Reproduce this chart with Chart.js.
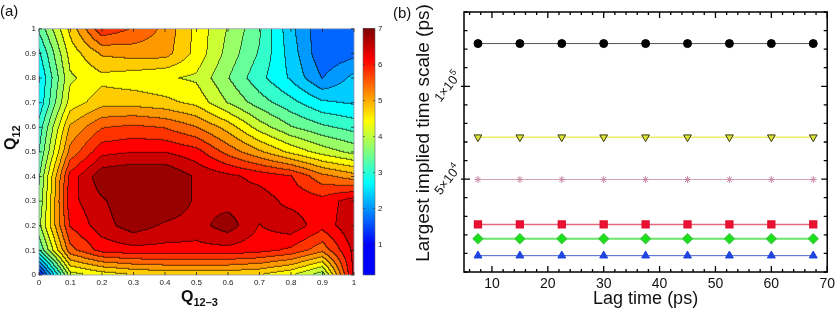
<!DOCTYPE html>
<html>
<head>
<meta charset="utf-8">
<script src="https://cdn.jsdelivr.net/npm/chart.js@4.4.1/dist/chart.umd.min.js"></script>
<style>
  html, body { margin: 0; padding: 0; background: #fff; }
  #wrap { position: relative; width: 839px; height: 310px; overflow: hidden; }
  #contour-chart { position: absolute; left: 0; top: 0; }
  #lag-chart { position: absolute; left: 380px; top: 0; }
</style>
</head>
<body>
<div id="wrap">
  <canvas id="contour-chart" width="400" height="310"></canvas>
  <canvas id="lag-chart" width="459" height="310"></canvas>
</div>
<script>
const FONT = "'Liberation Sans', Arial, Helvetica, sans-serif";

// ---- (a) free energy surface, columns: Q12-3 = 0..1, rows: Q12 = 0..1
const q123 = [0, 0.1, 0.2, 0.3, 0.4, 0.5, 0.6, 0.7, 0.8, 0.9, 1];
const q12 = [0, 0.1, 0.2, 0.3, 0.4, 0.5, 0.6, 0.7, 0.8, 0.9, 1];
const qTickLabels = ["0", "0.1", "0.2", "0.3", "0.4", "0.5", "0.6", "0.7", "0.8", "0.9", "1"];
const freeEnergy = [
  [1.0, 4.1, 4.4, 4.6, 4.7, 4.7, 4.7, 4.6, 4.3, 3.7, 6.4],
  [3.2, 5.5, 6.1, 6.2, 6.2, 6.2, 6.2, 6.1, 5.9, 5.4, 6.4],
  [3.8, 6.0, 6.5, 6.85, 6.6, 6.5, 6.85, 6.3, 6.55, 6.1, 6.6],
  [3.6, 6.2, 6.6, 6.95, 7.0, 6.6, 6.5, 6.5, 6.2, 6.1, 6.5],
  [3.5, 6.1, 6.9, 7.0, 7.0, 6.6, 6.4, 6.2, 6.0, 5.4, 5.1],
  [3.2, 5.4, 6.2, 6.3, 6.3, 6.1, 5.5, 5.0, 4.5, 4.1, 3.8],
  [3.0, 5.0, 5.6, 5.7, 5.6, 5.3, 4.8, 4.1, 3.6, 3.3, 3.1],
  [2.6, 4.4, 4.8, 4.8, 4.7, 4.5, 3.9, 3.4, 3.0, 2.6, 2.5],
  [2.5, 4.2, 4.5, 4.4, 4.3, 4.2, 3.6, 3.0, 2.5, 1.85, 2.3],
  [2.8, 4.4, 5.0, 5.1, 5.1, 4.5, 3.8, 3.2, 2.4, 1.6, 1.75],
  [3.3, 4.7, 5.9, 5.6, 5.2, 4.5, 3.9, 3.3, 2.3, 1.6, 1.65]
];
const colorbarTicks = [1, 2, 3, 4, 5, 6, 7];
const zMin = 0.15;
const zMax = 7;
const nLevels = 20;

// ---- (b) largest implied time scale vs lag time
const lagTimes = [7.5, 15, 22.5, 30, 37.5, 45, 52.5, 60, 67.5];
const tauCircle = [123000, 123000, 123000, 123000, 123000, 123000, 123000, 123000, 123000];
const tauTriDown = [72600, 72600, 72600, 72600, 72600, 72600, 72600, 72600, 72600];
const tauStar = [49800, 49800, 49800, 49800, 49800, 49800, 49800, 49800, 49800];
const tauSquare = [25600, 25600, 25600, 25600, 25600, 25600, 25600, 25600, 25600];
const tauDiamond = [17900, 17900, 17900, 17900, 17900, 17900, 17900, 17900, 17900];
const tauTriUp = [8800, 8800, 8800, 8800, 8800, 8800, 8800, 8800, 8800];
const xTickValues = [6, 8, 10, 12, 14, 16, 18, 20, 22, 24, 26, 28, 30, 32, 34, 36, 38, 40,
  42, 44, 46, 48, 50, 52, 54, 56, 58, 60, 62, 64, 66, 68, 70];
const xMajorTicks = [10, 20, 30, 40, 50, 60, 70];
const yTickValues = [0, 10000, 20000, 30000, 40000, 50000, 60000, 70000, 80000, 90000,
  100000, 110000, 120000, 130000, 140000];
const yLabelValues = [50000, 100000];
const yLabelBase = ["5\u00d710", "1\u00d710"];
const yLabelExp = ["4", "5"];

function clamp(v, a, b) { return Math.min(Math.max(v, a), b); }

function jet(t) {
  t = clamp(t, 0.125, 1);
  return [
    Math.round(255 * clamp(1.5 - Math.abs(4 * t - 3), 0, 1)),
    Math.round(255 * clamp(1.5 - Math.abs(4 * t - 2), 0, 1)),
    Math.round(255 * clamp(1.5 - Math.abs(4 * t - 1), 0, 1))
  ];
}

function sampleGrid(x, y) {
  const nx = q123.length - 1, ny = q12.length - 1;
  let fx = (x - q123[0]) / (q123[nx] - q123[0]) * nx;
  let fy = (y - q12[0]) / (q12[ny] - q12[0]) * ny;
  fx = clamp(fx, 0, nx - 1e-6);
  fy = clamp(fy, 0, ny - 1e-6);
  const i = Math.floor(fx), j = Math.floor(fy);
  const tx = fx - i, ty = fy - j;
  const a = freeEnergy[j][i] * (1 - tx) + freeEnergy[j][i + 1] * tx;
  const b = freeEnergy[j + 1][i] * (1 - tx) + freeEnergy[j + 1][i + 1] * tx;
  return a * (1 - ty) + b * ty;
}

const contourPlugin = {
  id: "contour",
  beforeDatasetsDraw(chart) {
    const { ctx, chartArea: a } = chart;
    const { x, y, cb } = chart.scales;
    const w = Math.round(a.right - a.left), h = Math.round(a.bottom - a.top);
    const step = (zMax - zMin) / nLevels;
    const lev = new Int16Array(w * h);
    for (let j = 0; j < h; j++) {
      const vy = y.getValueForPixel(a.top + j + 0.5);
      for (let i = 0; i < w; i++) {
        const vx = x.getValueForPixel(a.left + i + 0.5);
        const z = sampleGrid(vx, vy);
        lev[j * w + i] = clamp(Math.floor((z - zMin) / step), 0, nLevels - 1);
      }
    }
    const bandColors = [];
    for (let k = 0; k < nLevels; k++) bandColors.push(jet((k + 0.5) / nLevels));
    const off = document.createElement("canvas");
    off.width = w; off.height = h;
    const octx = off.getContext("2d");
    const img = octx.createImageData(w, h);
    for (let j = 0; j < h; j++) {
      for (let i = 0; i < w; i++) {
        const p = j * w + i;
        const k = lev[p];
        let [r, g, b] = bandColors[k];
        const edge = (i < w - 1 && lev[p + 1] !== k) || (j < h - 1 && lev[p + w] !== k);
        if (edge) { r *= 0.38; g *= 0.38; b *= 0.38; }
        img.data[p * 4] = r;
        img.data[p * 4 + 1] = g;
        img.data[p * 4 + 2] = b;
        img.data[p * 4 + 3] = 255;
      }
    }
    octx.putImageData(img, 0, 0);
    ctx.drawImage(off, a.left, a.top);

    // colorbar, continuous colormap along the cb scale
    const bx = cb.left + 9, bw = 12;
    for (let py = Math.floor(cb.top); py < cb.bottom; py++) {
      const v = cb.getValueForPixel(py + 0.5);
      const [r, g, b] = jet((v - zMin) / (zMax - zMin));
      ctx.fillStyle = `rgb(${r},${g},${b})`;
      ctx.fillRect(bx, py, bw, 1);
    }
    ctx.strokeStyle = "#666";
    ctx.lineWidth = 0.6;
    ctx.strokeRect(bx, cb.top, bw, cb.bottom - cb.top);
    ctx.strokeStyle = "#333";
    colorbarTicks.forEach(v => {
      const py = cb.getPixelForValue(v);
      ctx.beginPath();
      ctx.moveTo(bx, py); ctx.lineTo(bx + 2, py);
      ctx.moveTo(bx + bw, py); ctx.lineTo(bx + bw - 2, py);
      ctx.stroke();
    });
  },
  afterDraw(chart) {
    const { ctx, chartArea: a } = chart;
    const { x, y } = chart.scales;
    ctx.save();
    ctx.strokeStyle = "#8a94a8";
    ctx.lineWidth = 0.8;
    ctx.strokeRect(a.left, a.top, a.right - a.left, a.bottom - a.top);
    ctx.strokeStyle = "#222";
    ctx.lineWidth = 0.8;
    q123.forEach(v => {
      const px = x.getPixelForValue(v);
      ctx.beginPath();
      ctx.moveTo(px, a.bottom); ctx.lineTo(px, a.bottom - 3);
      ctx.moveTo(px, a.top); ctx.lineTo(px, a.top + 3);
      ctx.stroke();
    });
    q12.forEach(v => {
      const py = y.getPixelForValue(v);
      ctx.beginPath();
      ctx.moveTo(a.left, py); ctx.lineTo(a.left + 3, py);
      ctx.moveTo(a.right, py); ctx.lineTo(a.right - 3, py);
      ctx.stroke();
    });

    ctx.fillStyle = "#111";
    // x title: Q12-3
    ctx.textBaseline = "alphabetic";
    ctx.textAlign = "left";
    ctx.font = `bold 16px ${FONT}`;
    const qx = 181;
    ctx.fillText("Q", qx, 302);
    const qw = ctx.measureText("Q").width;
    ctx.font = `bold 11px ${FONT}`;
    ctx.fillText("12\u20133", qx + qw, 306);
    // y title: Q12
    ctx.save();
    ctx.translate(16, 150);
    ctx.rotate(-Math.PI / 2);
    ctx.font = `bold 16px ${FONT}`;
    ctx.fillText("Q", 0, 0);
    ctx.font = `bold 11px ${FONT}`;
    ctx.fillText("12", qw, 4);
    ctx.restore();
    // panel label
    ctx.font = `15px ${FONT}`;
    ctx.fillText("(a)", 0, 16);
    ctx.restore();
  }
};

new Chart(document.getElementById("contour-chart").getContext("2d"), {
  type: "scatter",
  data: {
    datasets: [{
      data: q12.flatMap(qy => q123.map(qx => ({ x: qx, y: qy }))),
      pointRadius: 0
    }]
  },
  options: {
    responsive: false,
    animation: false,
    events: [],
    layout: { padding: { top: 8, left: 0, right: 0, bottom: 0 } },
    plugins: { legend: { display: false }, tooltip: { enabled: false } },
    scales: {
      x: {
        type: "linear", min: 0, max: 1,
        afterBuildTicks: s => { s.ticks = q123.map(v => ({ value: v })); },
        afterFit: s => { s.height = 35; },
        ticks: { autoSkip: false, maxRotation: 0, padding: 3, color: "#222",
          font: { family: FONT, size: 8 }, callback: (v, i) => qTickLabels[i] },
        grid: { display: false, drawTicks: false },
        border: { display: false }
      },
      y: {
        type: "linear", min: 0, max: 1,
        afterBuildTicks: s => { s.ticks = q12.map(v => ({ value: v })); },
        afterFit: s => { s.width = 39; },
        ticks: { autoSkip: false, padding: 3, color: "#222",
          font: { family: FONT, size: 8 }, callback: (v, i) => qTickLabels[i] },
        grid: { display: false, drawTicks: false },
        border: { display: false }
      },
      cb: {
        type: "linear", position: "right", min: zMin, max: zMax,
        afterBuildTicks: s => { s.ticks = colorbarTicks.map(v => ({ value: v })); },
        afterFit: s => { s.width = 46; },
        ticks: { autoSkip: false, padding: 24, color: "#222",
          font: { family: FONT, size: 8 }, callback: v => String(v) },
        grid: { display: false, drawTicks: false },
        border: { display: false }
      }
    }
  },
  plugins: [contourPlugin]
});

// ---- (b)
const framePlugin = {
  id: "frame",
  afterDraw(chart) {
    const { ctx, chartArea: a } = chart;
    const { x, y } = chart.scales;
    ctx.save();
    ctx.strokeStyle = "#000";
    ctx.lineWidth = 1.5;
    ctx.strokeRect(a.left, a.top, a.right - a.left, a.bottom - a.top);
    ctx.lineWidth = 1.3;
    xTickValues.forEach(v => {
      const px = x.getPixelForValue(v);
      const len = xMajorTicks.includes(v) ? 6 : 3;
      ctx.beginPath();
      ctx.moveTo(px, a.bottom); ctx.lineTo(px, a.bottom - len);
      ctx.moveTo(px, a.top); ctx.lineTo(px, a.top + len);
      ctx.stroke();
    });
    yTickValues.forEach(v => {
      const py = y.getPixelForValue(v);
      const len = yLabelValues.includes(v) ? 6 : 3.5;
      ctx.beginPath();
      ctx.moveTo(a.left - (yLabelValues.includes(v) ? 3 : 0), py); ctx.lineTo(a.left + len, py);
      ctx.moveTo(a.right, py); ctx.lineTo(a.right - len, py);
      ctx.stroke();
    });

    // rotated y tick labels with exponents
    ctx.fillStyle = "#111";
    yLabelValues.forEach((v, i) => {
      const py = y.getPixelForValue(v);
      ctx.save();
      ctx.translate(a.left - 17, py);
      ctx.rotate(-52 * Math.PI / 180);
      ctx.font = `13px ${FONT}`;
      const bw = ctx.measureText(yLabelBase[i]).width;
      ctx.font = `9px ${FONT}`;
      const ew = ctx.measureText(yLabelExp[i]).width;
      const x0 = -(bw + ew) / 2;
      ctx.textBaseline = "alphabetic";
      ctx.textAlign = "left";
      ctx.font = `13px ${FONT}`;
      ctx.fillText(yLabelBase[i], x0, 5);
      ctx.font = `9px ${FONT}`;
      ctx.fillText(yLabelExp[i], x0 + bw, -1);
      ctx.restore();
    });

    // y title
    ctx.save();
    ctx.translate(44, 133);
    ctx.rotate(-Math.PI / 2);
    ctx.textAlign = "center";
    ctx.textBaseline = "middle";
    ctx.font = `19px ${FONT}`;
    ctx.fillText("Largest implied time scale (ps)", 0, 0);
    ctx.restore();

    ctx.textAlign = "left";
    ctx.textBaseline = "alphabetic";
    ctx.font = `15px ${FONT}`;
    ctx.fillText("(b)", 13, 18);
    ctx.restore();
  }
};

function pts(values) {
  return lagTimes.map((t, i) => ({ x: t, y: values[i] }));
}

new Chart(document.getElementById("lag-chart").getContext("2d"), {
  type: "scatter",
  data: {
    datasets: [
      { data: pts(tauCircle), showLine: true, borderColor: "#555", borderWidth: 1,
        pointStyle: "circle", pointRadius: 4, pointBackgroundColor: "#000", pointBorderColor: "#000" },
      { data: pts(tauTriDown), showLine: true, borderColor: "#eded6a", borderWidth: 1.5,
        pointStyle: "triangle", rotation: 180, pointRadius: 4.5, pointBackgroundColor: "#dce43a",
        pointBorderColor: "#3a3a10", pointBorderWidth: 1 },
      { data: pts(tauStar), showLine: true, borderColor: "#d4a2b8", borderWidth: 1,
        pointStyle: "star", pointRadius: 3.5, pointBorderColor: "#c98aa6", pointBorderWidth: 1 },
      { data: pts(tauSquare), showLine: true, borderColor: "#e46a7c", borderWidth: 1.5,
        pointStyle: "rect", pointRadius: 4.8, pointBackgroundColor: "#ee1030", pointBorderColor: "#e01030" },
      { data: pts(tauDiamond), showLine: true, borderColor: "#6be46b", borderWidth: 2,
        pointStyle: "rectRot", pointRadius: 4.3, pointBackgroundColor: "#10ea10", pointBorderColor: "#30d030" },
      { data: pts(tauTriUp), showLine: true, borderColor: "#4a64c8", borderWidth: 1,
        pointStyle: "triangle", pointRadius: 4.6, pointBackgroundColor: "#1f44e0", pointBorderColor: "#1f44e0" }
    ]
  },
  options: {
    responsive: false,
    animation: false,
    events: [],
    layout: { padding: { top: 12, right: 10, left: 0, bottom: 0 } },
    plugins: { legend: { display: false }, tooltip: { enabled: false } },
    scales: {
      x: {
        type: "linear", min: 5, max: 70,
        afterBuildTicks: s => { s.ticks = xTickValues.map(v => ({ value: v })); },
        afterFit: s => { s.height = 38; },
        ticks: { autoSkip: false, maxRotation: 0, padding: 4, color: "#111",
          font: { family: FONT, size: 14 },
          callback: v => xMajorTicks.includes(v) ? String(v) : "" },
        grid: { display: false, drawTicks: false },
        border: { display: false },
        title: { display: true, text: "Lag time (ps)", color: "#111",
          font: { family: FONT, size: 18 }, padding: { top: 0, bottom: 0 } }
      },
      y: {
        type: "linear", min: 0, max: 140000,
        afterBuildTicks: s => { s.ticks = yTickValues.map(v => ({ value: v })); },
        afterFit: s => { s.width = 84; },
        ticks: { display: false },
        grid: { display: false, drawTicks: false },
        border: { display: false }
      }
    }
  },
  plugins: [framePlugin]
});
</script>
</body>
</html>
